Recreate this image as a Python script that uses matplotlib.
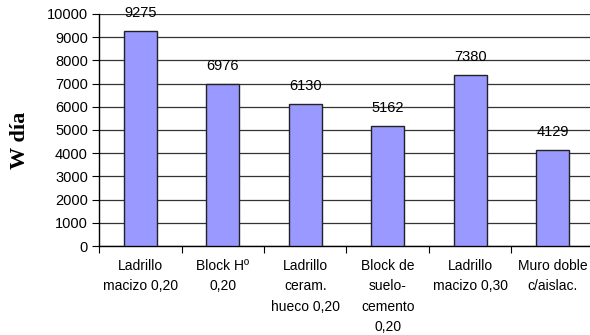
import matplotlib.pyplot as plt
import numpy as np

categories = ['Ladrillo\nmacizo 0,20', 'Block Hº\n0,20', 'Ladrillo\nceram.\nhueco 0,20',
              'Block de\nsuelo-\ncemento\n0,20', 'Ladrillo\nmacizo 0,30', 'Muro doble\nc/aislac.']
values = [9275, 6976, 6130, 5162, 7380, 4129]
yticks = [0, 1000, 2000, 3000, 4000, 5000, 6000, 7000, 8000, 9000, 10000]

plt.rcParams['font.family'] = ['Liberation Sans', 'DejaVu Sans']

fig = plt.figure(figsize=(5.9, 3.35), dpi=100)
ax = fig.add_axes([99 / 590, (335 - 246) / 335, 495 / 590, 232 / 335])

x = np.arange(len(values))
ax.bar(x, values, width=0.4, color='#9999FF', edgecolor='#222222', linewidth=1, zorder=3)
for xi, v in zip(x, values):
    ax.text(xi, v + 480, str(v), ha='center', va='bottom', fontsize=10.5, zorder=4)

ax.set_xlim(-0.5, len(values) - 0.5)
ax.set_ylim(0, 10000)
ax.set_yticks(yticks)
ax.set_yticklabels([str(t) for t in yticks], fontsize=10.5)
ax.yaxis.grid(True, color='#333333', linewidth=0.9, zorder=0)

ax.set_xticks(np.arange(len(values) + 1) - 0.5)
ax.set_xticklabels([])
ax.set_xticks(x, minor=True)
ax.set_xticklabels(categories, minor=True, fontsize=10, linespacing=1.6, va='top')
ax.tick_params(axis='x', which='minor', length=0, pad=9)
ax.tick_params(axis='x', which='major', length=5, direction='out')
ax.tick_params(axis='y', length=5, direction='out', pad=3)

for s in ['top', 'right']:
    ax.spines[s].set_visible(False)
ax.spines['left'].set_linewidth(1)
ax.spines['bottom'].set_linewidth(1)

fig.text(20 / 590, 1 - 140 / 335, 'W día', family='Liberation Serif', fontweight='bold',
         fontsize=16, rotation=90, ha='center', va='center')

fig.savefig('out.png', dpi=100)
